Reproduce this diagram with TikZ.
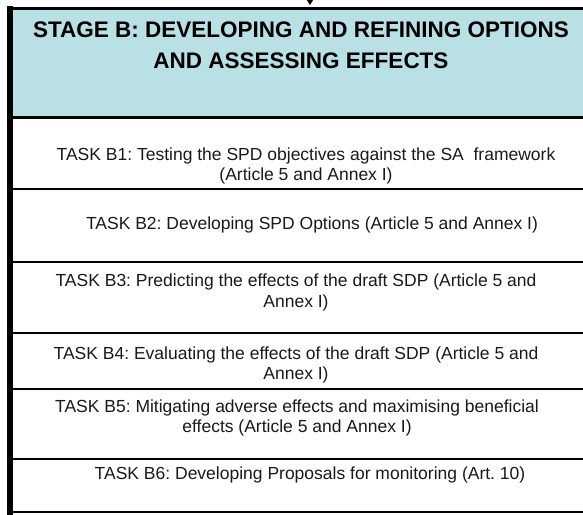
\documentclass[tikz,border=0pt]{standalone}
\usepackage{fontspec}
\setmainfont{Liberation Sans}
\usepackage{xcolor}
\usetikzlibrary{arrows.meta,positioning,calc}
\definecolor{stageblue}{RGB}{185,224,228}
\frenchspacing

\begin{document}
\begin{tikzpicture}[x=1pt, y=-1pt,
    % Base styles
    stagehead/.style={rectangle, draw=black, fill=stageblue, line width=3pt, minimum width=590pt, minimum height=108.5pt, inner sep=0pt, outer sep=0pt},
    taskrow/.style={rectangle, draw=black, line width=2pt, minimum width=590pt, inner sep=0pt, outer sep=0pt},
    % Arrows
    feedarrow/.style={-{Triangle[width=6pt,length=5pt]}, line width=0.8pt, shorten >=3.5pt},
    frame/.style={line width=5.5pt, line cap=rect},
    % Text
    title/.style={font=\fontsize{22.5}{31.5}\selectfont\bfseries, align=center, inner sep=0pt},
    tasktext/.style={font=\fontsize{17.5}{20.5}\selectfont, align=center, inner sep=0pt, text=black!90}
]
\useasboundingbox (0,0) rectangle (583,514);
\clip (0,0) rectangle (583,514);

% === STAGE B HEADER ===
\node[stagehead, anchor=north west] (stageB) at (10,8.5) {};
\node[title] (stageTitle) at (301,45.5) {STAGE B: DEVELOPING AND REFINING OPTIONS\\AND ASSESSING EFFECTS};

% === TASK ROWS ===
\node[taskrow, minimum height=72pt, below=0pt of stageB] (rowB1) {};
\node[taskrow, minimum height=73pt, below=0pt of rowB1] (rowB2) {};
\node[taskrow, minimum height=71pt, below=0pt of rowB2] (rowB3) {};
\node[taskrow, minimum height=56pt, below=0pt of rowB3] (rowB4) {};
\node[taskrow, minimum height=70pt, below=0pt of rowB4] (rowB5) {};
\node[taskrow, minimum height=53pt, below=0pt of rowB5, line width=2.5pt] (rowB6) {};

\node[tasktext] (taskB1) at (306,166) {TASK B1: Testing the SPD objectives against the SA\ \ framework\\(Article 5 and Annex I)};
\node[tasktext] (taskB2) at (312,225) {TASK B2: Developing SPD Options (Article 5 and Annex I)};
\node[tasktext] (taskB3) at (296,292.5) {TASK B3: Predicting the effects of the draft SDP (Article 5 and\\Annex I)};
\node[tasktext] (taskB4) at (296,365) {TASK B4: Evaluating the effects of the draft SDP (Article 5 and\\Annex I)};
\node[tasktext] (taskB5) at (297,418) {TASK B5: Mitigating adverse effects and maximising beneficial\\effects (Article 5 and Annex I)};
\node[tasktext] (taskB6) at (310,475) {TASK B6: Developing Proposals for monitoring (Art. 10)};

% === OUTER FRAME ===
\draw[line width=3.5pt] (stageB.north west) -- (stageB.north east);
\draw[frame] (stageB.north west) -- (rowB6.south west);

% === INCOMING ARROW ===
\coordinate (feed) at (310,-20);
\draw[feedarrow] (feed) -- (feed |- stageB.north);

\end{tikzpicture}
\end{document}
